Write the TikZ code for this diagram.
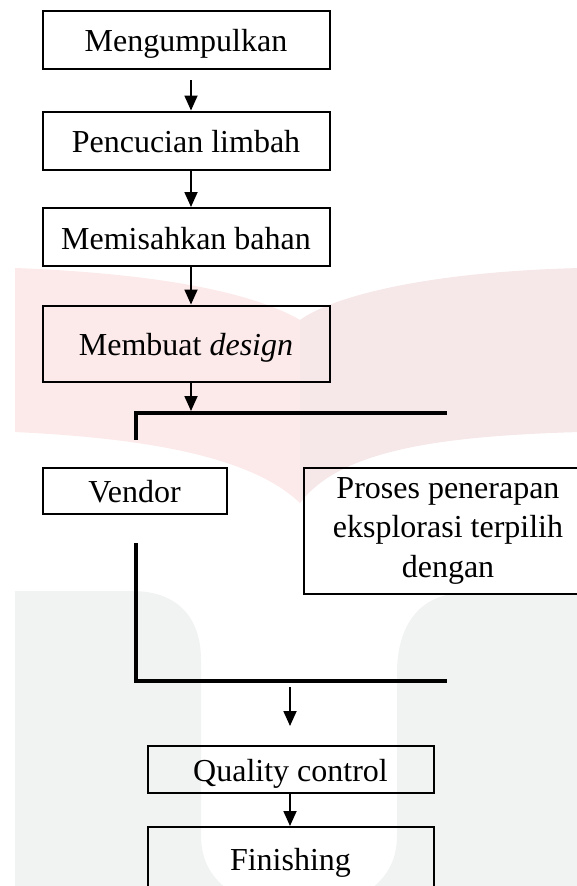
\documentclass[tikz,border=0pt]{standalone}
\usepackage{fontspec}
\setmainfont{Liberation Serif}
\usetikzlibrary{arrows.meta,calc}
\definecolor{pinkL}{HTML}{FCE9EA}
\definecolor{pinkR}{HTML}{F6E7E8}
\definecolor{wmgrey}{HTML}{F1F2F2}
\tikzset{
  procbox/.style={draw=black, line width=2pt, minimum width=287pt, minimum height=58pt,
    inner sep=0pt, font=\fontsize{32}{39.5}\selectfont, align=center},
  onetext/.style={text height=24pt, text depth=0pt},
  arr/.style={line width=1.8pt, -{Triangle[width=13pt,length=15pt]}},
  bar/.style={line width=4.2pt, line join=miter}
}
\begin{document}
\begin{tikzpicture}[x=1pt,y=-1pt]
\useasboundingbox (0,0) rectangle (577,886);
\clip (0,0) rectangle (577,886);
% watermark
\fill[pinkL] (15,268) .. controls (120,272) and (240,285) .. (300,320) -- (300,503)
  .. controls (250,455) and (140,438) .. (15,432) -- cycle;
\fill[pinkR] (300,320) .. controls (330,298) and (420,272) .. (580,268) -- (580,432)
  .. controls (440,436) and (340,450) .. (300,503) -- cycle;
\fill[wmgrey] (15,900) -- (15,591) -- (132,591) .. controls (178,591) and (201,618) .. (201,660)
  -- (201,835) .. controls (201,865) and (215,885) .. (245,900) -- (353,900)
  .. controls (383,885) and (397,865) .. (397,835) -- (397,673)
  .. controls (397,625) and (420,593) .. (465,593) -- (580,593) -- (580,900) -- cycle;
% boxes
\node[procbox, onetext] (m1) at (186,39.5) {Mengumpulkan};
\node[procbox, onetext] (m2) at (186,140.5) {Pencucian limbah};
\node[procbox, onetext] (m3) at (186,237) {Memisahkan bahan};
\node[procbox, onetext, minimum height=76pt] (m4) at (186,343.5) {Membuat \textit{design}};
\node[procbox, onetext, minimum width=184pt, minimum height=46pt] (vendor) at (134.5,490.5) {Vendor};
\node[procbox, minimum width=289pt, minimum height=126pt] (proses) at (448,530.5)
  {Proses penerapan\\eksplorasi terpilih\\dengan};
\node[procbox, onetext, minimum width=286pt, minimum height=47pt] (qc) at (290.5,769) {Quality control};
\node[procbox, onetext, minimum width=286pt, minimum height=62pt] (fin) at (290.5,858) {Finishing};
% coordinates
\coordinate (ax) at (191,0);
\coordinate (s1) at (191,80);
\coordinate (t4) at (191,411);
\coordinate (b1) at (136,440);
\coordinate (b2) at (136,413);
\coordinate (b3) at (447,413);
\coordinate (c1) at (136,543);
\coordinate (c2) at (136,681);
\coordinate (c3) at (447,681);
\coordinate (s5) at (290,687);
\coordinate (t5) at (290,726);
% connectors
\draw[arr] (s1) -- (m2.north -| s1);
\draw[arr] (m2.south -| ax) -- (m3.north -| ax);
\draw[arr] (m3.south -| ax) -- (m4.north -| ax);
\draw[arr] (m4.south -| ax) -- (t4);
\draw[bar] (b1) -- (b2) -- (b3);
\draw[bar] (c1) -- (c2) -- (c3);
\draw[arr] (s5) -- (t5);
\draw[arr] (qc.south -| s5) -- (fin.north -| s5);
\end{tikzpicture}
\end{document}
